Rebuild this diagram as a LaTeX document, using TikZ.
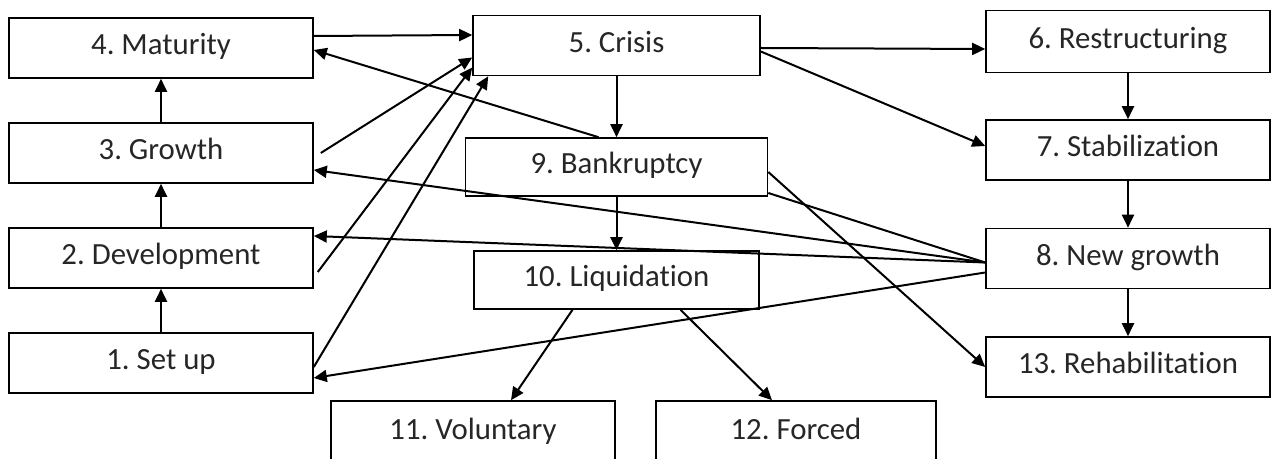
\documentclass[tikz,border=0pt]{standalone}
\usepackage{fontspec}
\setmainfont[RawFeature=-liga]{Carlito}
\frenchspacing
\usetikzlibrary{arrows.meta}

\begin{document}
\begin{tikzpicture}[x=0.5pt, y=-0.5pt, node distance=52.5pt, line width=1pt,
    >={Triangle[length=6.5pt,width=6pt]},
    box/.style={draw, line width=0.8pt, minimum width=152pt, minimum height=30pt,
      inner sep=0pt, text height=10.5pt, text depth=3.5pt,
      text=black!85, font=\fontsize{15.4}{18}\selectfont}]
      \useasboundingbox (0,0) rectangle (1280,459);
      % stages of the life cycle
      \node[box]             at (161,48)  (n4) {4. Maturity};
      \node[box, below of=n4]             (n3) {3. Growth};
      \node[box, below of=n3]             (n2) {2. Development};
      \node[box, below of=n2]             (n1) {1. Set up};
      % crisis path
      \node[box, minimum width=143.5pt] at (616.5,45.5) (n5) {5. Crisis};
      \node[box, minimum width=151pt, minimum height=29pt, below of=n5, node distance=60.75pt] (n9) {9. Bankruptcy};
      \node[box, minimum width=142.5pt, minimum height=29pt, below of=n9, node distance=56.5pt] (n10) {10. Liquidation};
      \node[box, minimum width=142pt, minimum height=32pt] at (473,433) (n11) {11. Voluntary};
      \node[box, minimum width=140pt, minimum height=32pt] at (796,433) (n12) {12. Forced};
      % recovery path
      \node[box, minimum width=142pt, minimum height=31pt] at (1128,41.5) (n6) {6. Restructuring};
      \node[box, minimum width=142pt, below of=n6, node distance=54.25pt] (n7) {7. Stabilization};
      \node[box, minimum width=142pt, below of=n7, node distance=54.25pt] (n8) {8. New growth};
      \node[box, minimum width=142pt, below of=n8, node distance=54.25pt] (n13) {13. Rehabilitation};
      % growth
      \draw[->] (n1) to (n2);
      \draw[->] (n2) to (n3);
      \draw[->] (n3) to (n4);
      % into crisis
      \draw[->] ([yshift=6pt]n4.east) to ([yshift=5.25pt]n5.west);
      \draw[->] ([xshift=3.5pt]n3.east) to ([yshift=-6pt]n5.west);
      \draw[->] ([xshift=2pt,yshift=-7pt]n2.east) to ([yshift=-11pt]n5.west);
      \draw[->] ([yshift=-2pt]n1.east) to ([xshift=8pt]n5.south west);
      \draw[->] (n5.south) to (n5.south |- n9.north);
      \draw[->] ([xshift=-9pt]n9.north) to ([yshift=-1pt]n4.east);
      \draw[->] (n9.south) to (n9.south |- n10.north);
      \draw[->] ([xshift=-22pt]n10.south) to ([xshift=19pt]n11.north);
      \draw[->] ([xshift=32pt]n10.south) to ([xshift=-12pt]n12.north);
      % way out
      \draw[->] ([yshift=-1.25pt]n5.east) to ([yshift=-3.75pt]n6.west);
      \draw[->] ([yshift=-3pt]n5.east) to ([yshift=2pt]n7.west);
      \draw[->] (n6) to (n7);
      \draw[->] (n7) to (n8);
      \draw[->] (n8) to (n13);
      \draw[->] ([yshift=-2.5pt]n9.east) to (n13.west);
      \draw     ([yshift=-13pt]n9.east) to ([yshift=-2pt]n8.west);
      \draw[->] ([yshift=-2pt]n8.west) to ([yshift=-8.5pt]n3.east);
      \draw[->] ([yshift=-2pt]n8.west) to ([yshift=11pt]n2.east);
      \draw[->] ([yshift=-7pt]n8.west) to ([yshift=-7.5pt]n1.east);
\end{tikzpicture}
\end{document}
